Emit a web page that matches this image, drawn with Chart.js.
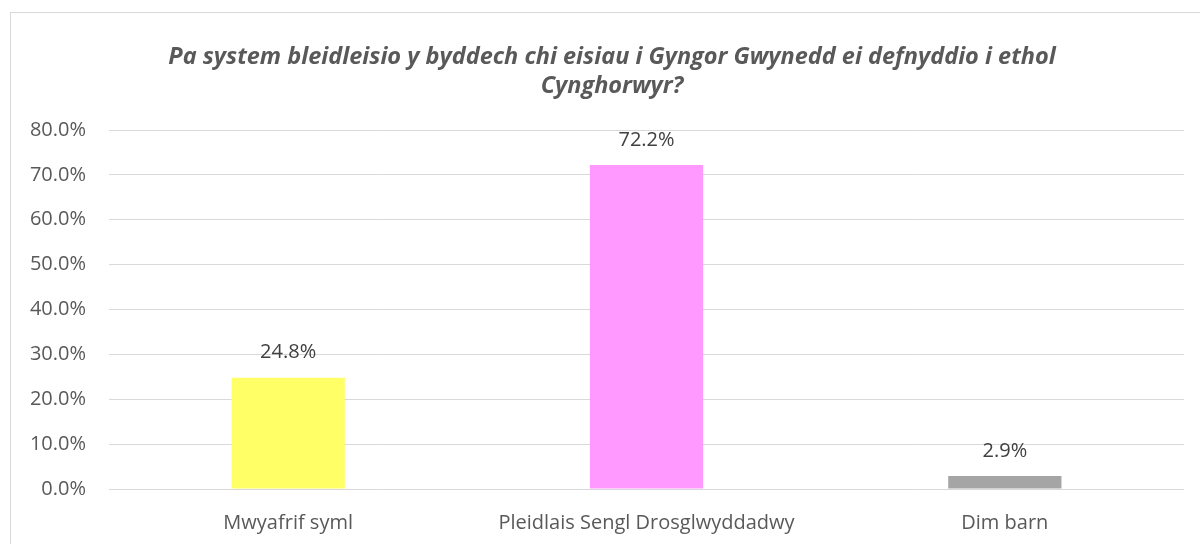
<!DOCTYPE html>
<html><head><meta charset="utf-8">
<script src="https://cdn.jsdelivr.net/npm/chart.js@4"></script>
<style>
html,body{margin:0;padding:0;background:#fff;overflow:hidden;}
#frame{position:absolute;left:10px;top:12px;width:1204px;height:540px;border:1px solid #D9D9D9;box-sizing:border-box;}
#wrap{position:absolute;left:0;top:0;width:1200px;height:544px;}
</style></head>
<body>
<div id="frame"></div>
<div id="wrap"><canvas id="c" width="1200" height="544"></canvas></div>
<script>
const titleLines = ['Pa system bleidleisio y byddech chi eisiau i Gyngor Gwynedd ei defnyddio i ethol', 'Cynghorwyr?'];
const categories = ['Mwyafrif syml', 'Pleidlais Sengl Drosglwyddadwy', 'Dim barn'];
const values = [24.8, 72.2, 2.9];
const barColors = ['#FFFF66', '#FF99FF', '#A5A5A5'];
const yTicks = [0, 10, 20, 30, 40, 50, 60, 70, 80];

const FONT = "'Open Sans', sans-serif";

const chartTitle = {
  id: 'chartTitle',
  afterDraw(chart) {
    const ctx = chart.ctx;
    ctx.save();
    ctx.font = 'italic bold 23.5px ' + FONT;
    ctx.fillStyle = '#595959';
    ctx.textAlign = 'center';
    ctx.textBaseline = 'middle';
    titleLines.forEach((t, i) => ctx.fillText(t, 612, 57 + i * 29));
    ctx.restore();
  }
};

const dataLabels = {
  id: 'dataLabels',
  afterDatasetsDraw(chart) {
    const ctx = chart.ctx;
    const meta = chart.getDatasetMeta(0);
    ctx.save();
    ctx.font = '20px ' + FONT;
    ctx.fillStyle = '#404040';
    ctx.textAlign = 'center';
    ctx.textBaseline = 'middle';
    meta.data.forEach((bar, i) => {
      ctx.fillText(values[i].toFixed(1) + '%', bar.x, bar.y - 25);
    });
    ctx.restore();
  }
};

new Chart(document.getElementById('c'), {
  type: 'bar',
  data: {
    labels: categories,
    datasets: [{
      data: values,
      backgroundColor: barColors,
      borderWidth: 0,
      barPercentage: 0.316,
      categoryPercentage: 1.0
    }]
  },
  options: {
    responsive: false,
    animation: false,
    devicePixelRatio: 1,
    layout: { padding: { left: 0, right: 16, top: 130, bottom: 0 } },
    plugins: {
      legend: { display: false },
      tooltip: { enabled: false },
      title: { display: false }
    },
    scales: {
      x: {
        grid: { display: false, drawTicks: false },
        border: { display: false },
        ticks: { color: '#595959', font: { family: FONT, size: 20 }, padding: 22 },
        afterFit(s) { s.height = 55; }
      },
      y: {
        min: 0, max: 80,
        afterBuildTicks(s) { s.ticks = yTicks.map(v => ({ value: v })); },
        grid: { color: '#D9D9D9', lineWidth: 1, drawTicks: false },
        border: { display: false },
        ticks: { color: '#595959', font: { family: FONT, size: 20 }, padding: 23,
          callback: v => v.toFixed(1) + '%' },
        afterFit(s) { s.width = 109; }
      }
    }
  },
  plugins: [dataLabels, chartTitle]
});
</script>
</body></html>
